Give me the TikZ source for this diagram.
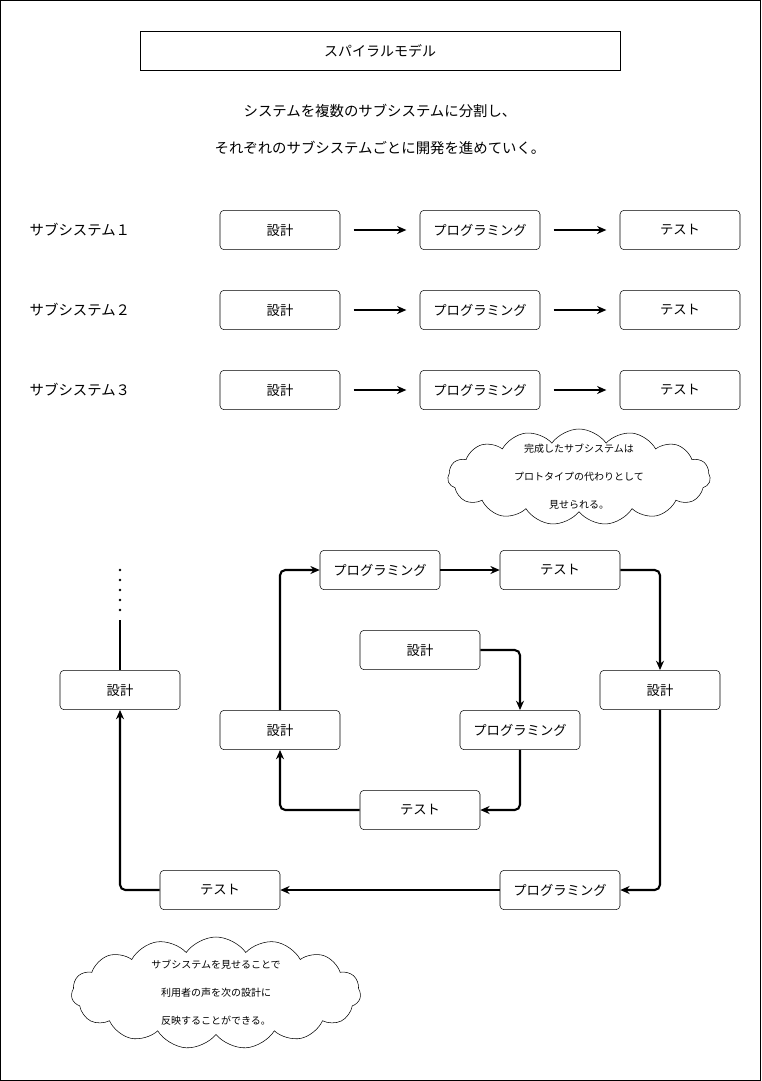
\documentclass[tikz,border=0pt]{standalone}
\usepackage{fontspec}
\setmainfont{Noto Sans CJK JP}
\usetikzlibrary{shapes.symbols,arrows.meta}

\tikzset{
  box/.style={draw,rounded corners=3pt,minimum width=90pt,minimum height=29.5pt,font=\fontsize{10}{12}\selectfont,inner sep=0pt},
  conn/.style={line width=1.6pt,-{Stealth[length=7pt,width=6pt]},rounded corners=4pt},
  bubble/.style={draw,cloud,cloud puffs=15,cloud puff arc=110,cloud ignores aspect,inner sep=0pt},
  bubbletext/.style={font=\fontsize{7.5}{21}\selectfont,align=center}
}

\begin{document}
\begin{tikzpicture}[x=0.75pt,y=-0.75pt]
\useasboundingbox (0,0) rectangle (761,1081);
\draw (0.5,0.5) rectangle (760.5,1080.5);
% title
\node[draw,minimum width=360pt,minimum height=29.5pt,font=\fontsize{10.5}{12}\selectfont] (title) at (380,50.5) {スパイラルモデル};
\node[font=\fontsize{10.8}{12}\selectfont] (line1) at (380,111) {システムを複数のサブシステムに分割し、};
\node[font=\fontsize{10.8}{12}\selectfont] (line2) at (380,148) {それぞれのサブシステムごとに開発を進めていく。};
% rows
\foreach \i/\y in {1/230,2/310,3/390}{
  \node[anchor=west,font=\fontsize{10.8}{12}\selectfont] (sub\i) at (25,\y) {サブシステム\ifcase\i\or １\or ２\or ３\fi};
  \node[box] (d\i) at (280,\y) {設計};
  \node[box] (p\i) at (480,\y) {プログラミング};
  \node[box] (t\i) at (680,\y) {テスト};
  \draw[conn] ([xshift=10]d\i.east) -- ([xshift=-10]p\i.west);
  \draw[conn] ([xshift=10]p\i.east) -- ([xshift=-10]t\i.west);
}
% clouds
\node[bubble,minimum width=197pt,minimum height=72pt] (note1) at (579,477) {};
\node[bubbletext] (note1txt) at (note1) {完成したサブシステムは\\プロトタイプの代わりとして\\見せられる。};
\node[bubble,minimum width=217pt,minimum height=84pt] (note2) at (216,993) {};
\node[bubbletext] (note2txt) at (note2) {サブシステムを見せることで\\利用者の声を次の設計に\\反映することができる。};
% spiral
\node[box] (sd1) at (420,650) {設計};
\node[box] (sp1) at (520,730) {プログラミング};
\node[box] (st1) at (420,810) {テスト};
\node[box] (sd2) at (280,730) {設計};
\node[box] (sp2) at (380,570) {プログラミング};
\node[box] (st2) at (560,570) {テスト};
\node[box] (sd3) at (660,690) {設計};
\node[box] (sp3) at (560,890) {プログラミング};
\node[box] (st3) at (220,890) {テスト};
\node[box] (sd4) at (120,690) {設計};
\coordinate (top) at (120,620);
\draw[conn] (sd1.east) -| (sp1.north);
\draw[conn] (sp1.south) |- (st1.east);
\draw[conn] (st1.west) -| (sd2.south);
\draw[conn] (sd2.north) |- (sp2.west);
\draw[conn] (sp2.east) -- (st2.west);
\draw[conn] (st2.east) -| (sd3.north);
\draw[conn] (sd3.south) |- (sp3.east);
\draw[conn] (sp3.west) -- (st3.east);
\draw[conn] (st3.west) -| (sd4.south);
\draw[line width=1.6pt] (sd4.north) -- (top);
\foreach \k in {0,1,2,3,4}
  \fill (120,570+\k*10) circle (1.3);
\end{tikzpicture}
\end{document}
